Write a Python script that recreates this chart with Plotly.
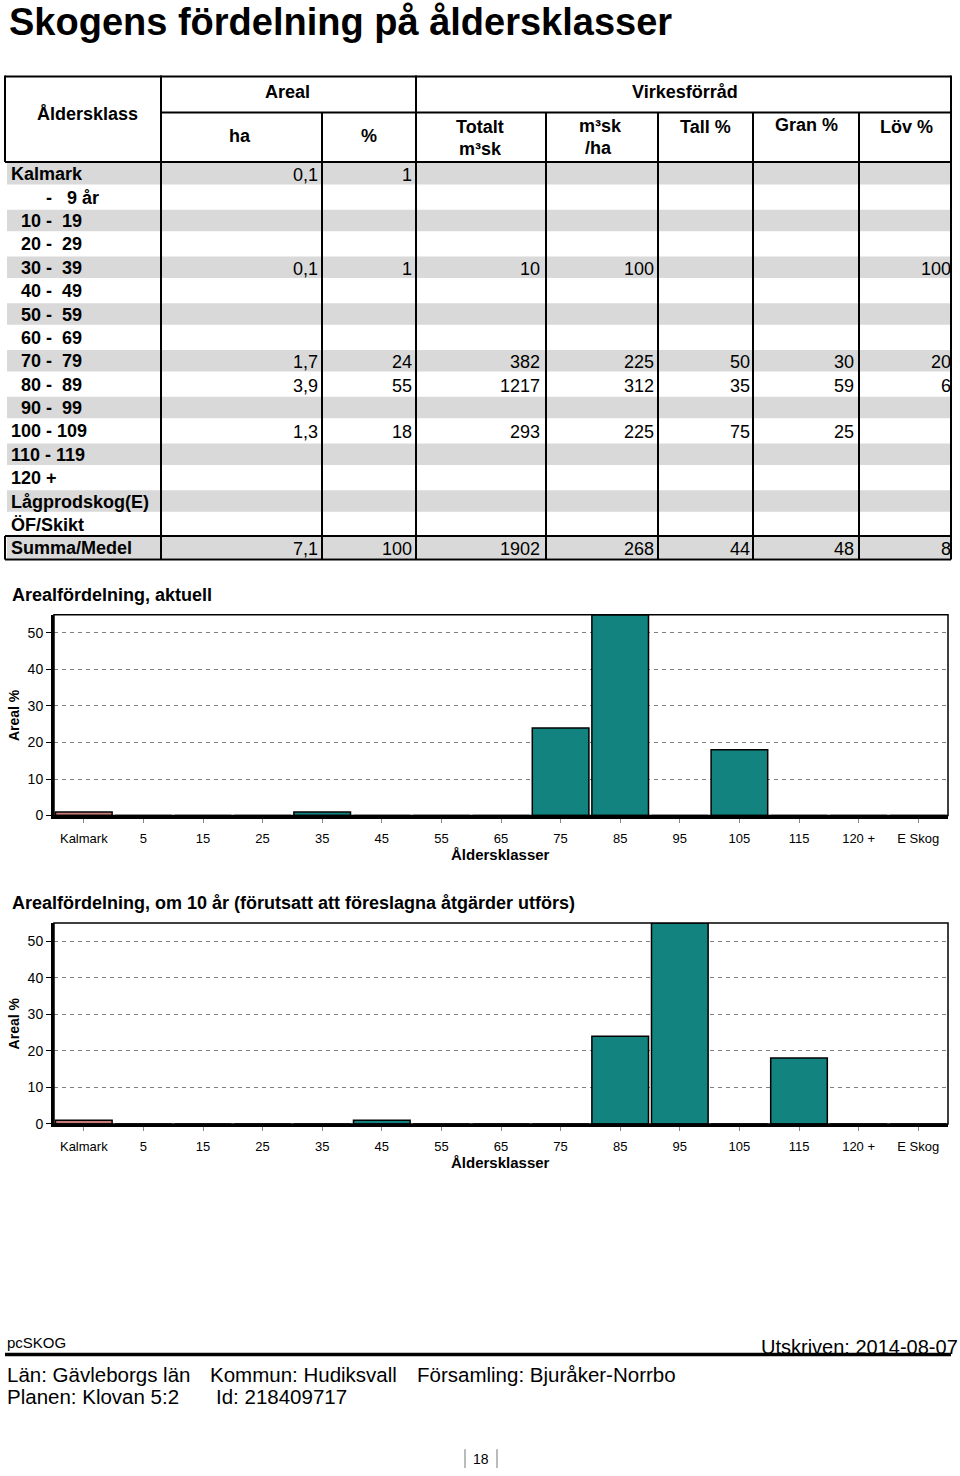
import plotly.graph_objects as go

# ---------------- data ----------------
age_classes = ["Kalmark", "- 9 år", "10 - 19", "20 - 29", "30 - 39", "40 - 49", "50 - 59",
               "60 - 69", "70 - 79", "80 - 89", "90 - 99", "100 - 109", "110 - 119", "120 +",
               "Lågprodskog(E)", "ÖF/Skikt", "Summa/Medel"]
N = None
areal_ha = [0.1, N, N, N, 0.1, N, N, N, 1.7, 3.9, N, 1.3, N, N, N, N, 7.1]
areal_pct = [1, N, N, N, 1, N, N, N, 24, 55, N, 18, N, N, N, N, 100]
tot_m3sk = [N, N, N, N, 10, N, N, N, 382, 1217, N, 293, N, N, N, N, 1902]
m3sk_per_ha = [N, N, N, N, 100, N, N, N, 225, 312, N, 225, N, N, N, N, 268]
tall_pct = [N, N, N, N, N, N, N, N, 50, 35, N, 75, N, N, N, N, 44]
gran_pct = [N, N, N, N, N, N, N, N, 30, 59, N, 25, N, N, N, N, 48]
lov_pct = [N, N, N, N, 100, N, N, N, 20, 6, N, N, N, N, N, N, 8]

chart_cats = ["Kalmark", "5", "15", "25", "35", "45", "55", "65", "75", "85", "95",
              "105", "115", "120 +", "E Skog"]
areal_now = [1, 0, 0, 0, 1, 0, 0, 0, 24, 55, 0, 18, 0, 0, 0]
areal_10yr = [1, 0, 0, 0, 0, 1, 0, 0, 0, 24, 55, 0, 18, 0, 0]

# ---------------- page geometry (pixels) ----------------
W, H = 960, 1476
FONT = "Liberation Sans, Arial, sans-serif"


def fx(px):
    return px / W


def fy(py):
    return 1 - py / H


shapes = []
annotations = []


def line(x0, y0, x1, y1, width=2, color="black"):
    shapes.append(dict(type="line", xref="paper", yref="paper",
                       x0=fx(x0), y0=fy(y0), x1=fx(x1), y1=fy(y1),
                       line=dict(color=color, width=width)))


def text(x, y, s, size=18, bold=False, xanchor="left", color="black", angle=0, yanchor="middle"):
    if bold:
        s = "<b>" + s + "</b>"
    annotations.append(dict(xref="paper", yref="paper", x=fx(x), y=fy(y), text=s,
                            showarrow=False, xanchor=xanchor, yanchor=yanchor,
                            textangle=angle, borderpad=0,
                            font=dict(family=FONT, size=size, color=color)))


# ---------------- title ----------------
text(8, 0, "Skogens fördelning på åldersklasser", size=38, bold=True, yanchor="top")

# ---------------- table ----------------
col_x = [5, 161, 322, 416, 546, 658, 753, 859, 951]
hdr_top, hdr_mid, hdr_bot = 77, 113, 163
row_h = 23.5
n_rows = len(age_classes)
tbl_bot = hdr_bot + n_rows * row_h

# stripes
for i in range(0, n_rows, 2):
    shapes.append(dict(type="rect", xref="paper", yref="paper", layer="below",
                       x0=fx(7), x1=fx(951), y0=fy(hdr_bot + i * row_h + 1),
                       y1=fy(hdr_bot + (i + 1) * row_h - 1),
                       fillcolor="#D9D9D9", line=dict(width=0)))

# header grid
line(5, hdr_top, 951, hdr_top)
line(161, hdr_mid, 951, hdr_mid)
line(5, hdr_bot, 951, hdr_bot)
for x in [5, 161, 416, 951]:
    line(x, hdr_top - 1, x, hdr_bot)
for x in [322, 546, 658, 753, 859]:
    line(x, hdr_mid, x, hdr_bot)
# body verticals
for x in col_x[1:]:
    line(x, hdr_bot, x, tbl_bot)
# summary row box
sum_top = hdr_bot + (n_rows - 1) * row_h
line(5, sum_top, 951, sum_top)
line(5, tbl_bot, 951, tbl_bot)
line(5, sum_top, 5, tbl_bot)

# header texts
text(87, 115, "Åldersklass", bold=True, xanchor="center")
text(287, 93, "Areal", bold=True, xanchor="center")
text(685, 93, "Virkesförråd", bold=True, xanchor="center")
text(240, 137, "ha", bold=True, xanchor="center")
text(369, 137, "%", bold=True, xanchor="center")
text(480, 128, "Totalt", bold=True, xanchor="center")
text(480, 150, "m³sk", bold=True, xanchor="center")
text(600, 127, "m³sk", bold=True, xanchor="center")
text(598, 149, "/ha", bold=True, xanchor="center")
text(705, 128, "Tall %", bold=True, xanchor="center")
text(806, 126, "Gran %", bold=True, xanchor="center")
text(906, 128, "Löv %", bold=True, xanchor="center")


def pad(lbl):
    nb = "\u00a0"
    if lbl.startswith("-"):
        return nb * 7 + "-" + nb * 3 + lbl[1:].strip()
    parts = lbl.split(" - ")
    if len(parts) == 2 and len(parts[0]) == 2:
        return nb * 2 + parts[0] + " -" + nb * 2 + parts[1]
    return lbl


def fmt(v, dec=False):
    if v is None:
        return None
    if dec:
        return f"{v:.1f}".replace(".", ",")
    return str(v)


columns = [(areal_ha, True, 319), (areal_pct, False, 413), (tot_m3sk, False, 541),
           (m3sk_per_ha, False, 655), (tall_pct, False, 751), (gran_pct, False, 855),
           (lov_pct, False, 952)]

for i, lbl in enumerate(age_classes):
    yc = hdr_bot + i * row_h + row_h / 2 + 0.5
    text(10, yc, pad(lbl), bold=True)
    for vals, dec, xr in columns:
        s = fmt(vals[i], dec)
        if s is not None:
            text(xr, yc + 1, s, xanchor="right")

# ---------------- charts ----------------
bar_colors = ["#C97B78"] + ["#12837E"] * (len(chart_cats) - 1)

fig = go.Figure()
fig.add_trace(go.Bar(x=chart_cats, y=areal_now, xaxis="x", yaxis="y",
                     marker=dict(color=bar_colors, line=dict(color="black", width=1.5)),
                     showlegend=False, hoverinfo="x+y"))
fig.add_trace(go.Bar(x=chart_cats, y=areal_10yr, xaxis="x2", yaxis="y2",
                     marker=dict(color=bar_colors, line=dict(color="black", width=1.5)),
                     showlegend=False, hoverinfo="x+y"))

charts = [
    ("", "Arealfördelning, aktuell", 598, 618, 820),
    ("2", "Arealfördelning, om 10 år (förutsatt att föreslagna åtgärder utförs)", 908, 928, 1130),
]
plot_l, plot_r = 54, 948
axis_cfg = {}
for suffix, title, ty, top, bot in charts:
    axis_cfg["xaxis" + suffix] = dict(
        domain=[fx(plot_l), fx(plot_r)], anchor="y" + suffix, type="category",
        range=[-0.5, len(chart_cats) - 0.5], showgrid=False, zeroline=False,
        showline=True, linewidth=3, linecolor="black", ticks="outside", ticklen=4,
        tickcolor="#888888", tickwidth=1, ticklabelstandoff=5,
        tickfont=dict(family=FONT, size=13, color="black"), fixedrange=True)
    axis_cfg["yaxis" + suffix] = dict(
        domain=[fy(bot), fy(top)], anchor="x" + suffix, range=[0, 55],
        tickvals=[0, 10, 20, 30, 40, 50], showgrid=True, gridcolor="#808080",
        gridwidth=1, griddash="4px,4px", zeroline=False, showline=True, linewidth=3,
        linecolor="black", ticks="outside", ticklen=5, tickcolor="black",
        tickfont=dict(family=FONT, size=14, color="black"), fixedrange=True)
    shapes.append(dict(type="rect", xref="x" + suffix + " domain", yref="y" + suffix + " domain",
                       x0=0, x1=1, y0=0, y1=1, line=dict(color="black", width=1.5)))
    text(11, ty, title, size=18, bold=True)
    text(500, bot + 39, "Åldersklasser", size=15, bold=True, xanchor="center")
    text(14, (top + bot) / 2, "Areal %", size=14, bold=True, xanchor="center", angle=-90)

# ---------------- footer ----------------
text(6, 1350, "pcSKOG", size=15)
text(959, 1354, "Utskriven: 2014-08-07", size=20, xanchor="right")
line(5, 1362, 951, 1362, width=3.5)
text(6, 1382, "Län: Gävleborgs län", size=20.5)
text(209, 1382, "Kommun: Hudiksvall", size=20.5)
text(416, 1382, "Församling: Bjuråker-Norrbo", size=20.5)
text(6, 1404, "Planen: Klovan 5:2", size=20.5)
text(215, 1404, "Id: 218409717", size=20.5)
text(481, 1467, "18", size=14, xanchor="center")
line(465, 1457, 465, 1476, width=1, color="#777777")
line(497, 1457, 497, 1476, width=1, color="#777777")

fig.update_layout(
    width=W, height=H, autosize=False, margin=dict(l=0, r=0, t=0, b=0),
    paper_bgcolor="white", plot_bgcolor="white", bargap=0.05,
    font=dict(family=FONT, color="black"),
    shapes=shapes, annotations=annotations, **axis_cfg)

fig.write_html("out.html", config={"displayModeBar": False, "responsive": False},
               default_width="960px", default_height="1476px",
               post_script="document.body.style.margin='0px';")
